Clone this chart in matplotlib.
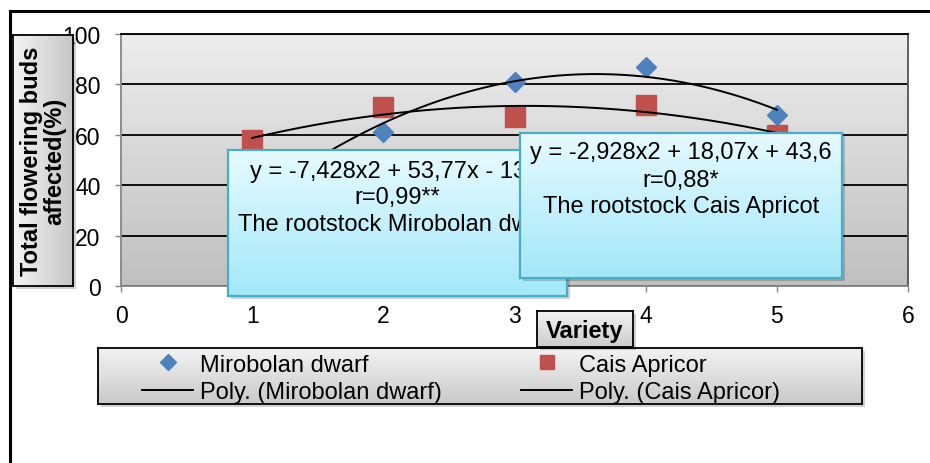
import numpy as np
import matplotlib.pyplot as plt
from matplotlib.colors import to_rgb
from matplotlib.patches import Rectangle

plt.rcParams['font.family'] = ['Liberation Sans', 'DejaVu Sans']

W, H = 930, 464

# data
variety = [1, 2, 3, 4, 5]
mirobolan = [35, 61, 81, 87, 68]
cais = [58, 71, 67, 72, 60]

x_ticks = [0, 1, 2, 3, 4, 5, 6]
y_ticks = [0, 20, 40, 60, 80, 100]

series_labels = ['Mirobolan dwarf', 'Cais Apricor']
trend_labels = ['Poly. (Mirobolan dwarf)', 'Poly. (Cais Apricor)']
box1_lines = ['y = -7,428x2 + 53,77x - 13,2', 'r=0,99**', 'The rootstock Mirobolan dwarf']
box2_lines = ['y = -2,928x2 + 18,07x + 43,6', 'r=0,88*', 'The rootstock Cais Apricot']

BLUE = '#4f81bd'
RED = '#c0504d'


def rect(x0, y0, x1, y1):
    """pixel box (top-left origin) -> figure fraction"""
    return [x0 / W, 1 - y1 / H, (x1 - x0) / W, (y1 - y0) / H]


def gradient(c_a, c_b, n=64, horizontal=False):
    a, b = np.array(to_rgb(c_a)), np.array(to_rgb(c_b))
    t = np.linspace(0, 1, n)[:, None]
    g = a + (b - a) * t
    if horizontal:
        return g[None, :, :]
    return g[:, None, :]


def panel(fig, box, c_a, c_b, edge, lw, z, horizontal=False, shadow=True):
    x0, y0, x1, y1 = box
    if shadow:
        fig.patches.append(Rectangle(((x0 + 3) / W, 1 - (y1 + 3) / H),
                                     (x1 - x0) / W, (y1 - y0) / H,
                                     transform=fig.transFigure, facecolor='black',
                                     alpha=0.18, edgecolor='none', zorder=z - 0.05))
    pax = fig.add_axes(rect(*box), zorder=z)
    pax.imshow(gradient(c_a, c_b, horizontal=horizontal), aspect='auto',
               extent=[0, 1, 0, 1], origin='upper')
    pax.set_xlim(0, 1)
    pax.set_ylim(0, 1)
    pax.set_xticks([])
    pax.set_yticks([])
    for s in pax.spines.values():
        s.set_color(edge)
        s.set_linewidth(lw)
    return pax


fig = plt.figure(figsize=(W / 100, H / 100), dpi=100)

# outer chart frame (right and bottom run off the picture)
fig.patches.append(Rectangle((10 / W, -0.2), 1.2, 1.2 - 12 / H, transform=fig.transFigure,
                             fill=False, edgecolor='black', linewidth=2.2, zorder=0))

ax = fig.add_axes(rect(121, 35, 908, 287), zorder=1)
ax.imshow(gradient('#ededed', '#c0c0c0'), aspect='auto', extent=[0, 6, 0, 100],
          origin='upper', zorder=0)
ax.set_xlim(0, 6)
ax.set_ylim(0, 100)
ax.set_xticks(x_ticks)
ax.set_yticks(y_ticks)
ax.set_axisbelow(True)
ax.yaxis.grid(True, color='black', linewidth=1.3)
ax.tick_params(axis='both', labelsize=16.5, direction='out', length=4.3,
               color='#868686', width=1.0)
ax.tick_params(axis='y', pad=10.5)
ax.tick_params(axis='x', pad=8.5)
ax.spines['left'].set_color('#868686')
ax.spines['bottom'].set_color('#868686')
ax.spines['top'].set_color('black')
ax.spines['right'].set_color('#555555')
for s in ax.spines.values():
    s.set_linewidth(1.3)

# markers
ax.plot(variety, mirobolan, linestyle='none', marker='D', markersize=10.5,
        color=BLUE, label=series_labels[0], zorder=3)
ax.plot(variety, cais, linestyle='none', marker='s', markersize=14,
        color=RED, label=series_labels[1], zorder=3)

# 2nd order polynomial trendlines fitted to the data
xs = np.linspace(min(variety), max(variety), 200)
fit_m = np.polyval(np.polyfit(variety, mirobolan, 2), xs)
fit_c = np.polyval(np.polyfit(variety, cais, 2), xs)
ax.plot(xs, fit_m, color='black', linewidth=1.4, label=trend_labels[0], zorder=4)
ax.plot(xs, fit_c, color='black', linewidth=1.4, label=trend_labels[1], zorder=4)

# y axis title box
yb = panel(fig, (13, 36, 73, 287), '#f4f4f4', '#c6c6c6', 'black', 1.3, 3, horizontal=True)
yb.text(0.5, 0.5, 'Total flowering buds\naffected(%)', rotation=90, ha='center',
        va='center', fontsize=17, fontweight='bold', linespacing=1.0,
        multialignment='center', transform=yb.transAxes)

# x axis title box
xb = panel(fig, (537, 312, 633, 348), '#f2f2f2', '#cdcdcd', 'black', 1.3, 3)
xb.text(0.5, 0.47, 'Variety', ha='center', va='center', fontsize=17,
        fontweight='bold', transform=xb.transAxes)

# legend box
lb = panel(fig, (98, 349, 862, 405), '#f2f2f2', '#cacaca', 'black', 1.3, 2)
handles, labs = ax.get_legend_handles_labels()
order = [0, 2, 1, 3]
leg = lb.legend([handles[i] for i in order], [labs[i] for i in order], ncol=2,
                loc='upper left', bbox_to_anchor=((142 - 98) / 764, 0.9),
                frameon=False, fontsize=17, handlelength=2.16, handletextpad=0.3,
                columnspacing=3.35, labelspacing=0.22, borderpad=0, borderaxespad=0,
                markerscale=0.75)

# equation boxes
b1 = panel(fig, (228, 151, 567, 297), '#e6faff', '#a3e8fa', '#4bacc6', 1.6, 4)
for yy, line in zip([0.856, 0.678, 0.493], box1_lines):
    b1.text(0.5, yy, line, ha='center', va='center', fontsize=17,
            transform=b1.transAxes, clip_on=True)

b2 = panel(fig, (520, 134, 842, 279), '#e6faff', '#a3e8fa', '#4bacc6', 1.6, 5)
for yy, line in zip([0.869, 0.676, 0.497], box2_lines):
    b2.text(0.5, yy, line, ha='center', va='center', fontsize=17,
            transform=b2.transAxes, clip_on=True)

fig.savefig('out.png', dpi=100)
